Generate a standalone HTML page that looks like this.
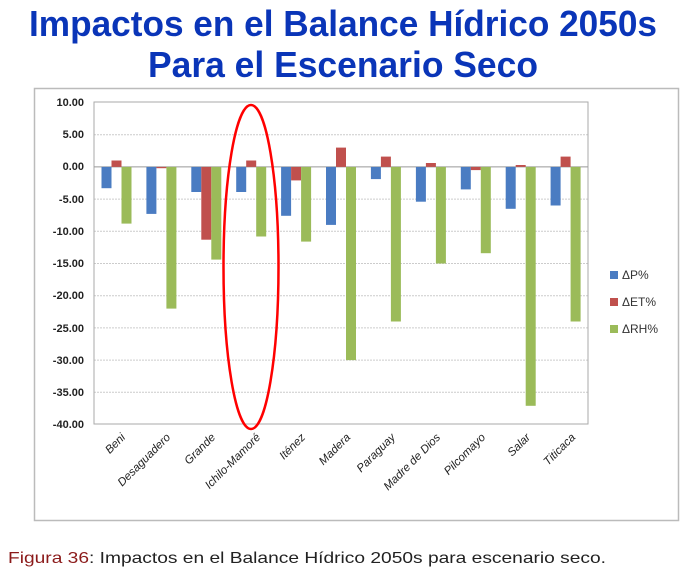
<!DOCTYPE html>
<html><head><meta charset="utf-8"><style>
html,body{margin:0;padding:0;background:#fff;width:687px;height:573px;overflow:hidden}
</style></head><body>
<svg width="687" height="573" xmlns="http://www.w3.org/2000/svg" font-family="Liberation Sans, sans-serif">
<text x="343" y="36" text-anchor="middle" font-size="36" font-weight="bold" fill="#0a35b8" textLength="628" lengthAdjust="spacingAndGlyphs">Impactos en el Balance Hídrico 2050s</text>
<text x="343" y="77" text-anchor="middle" font-size="36" font-weight="bold" fill="#0a35b8" textLength="390" lengthAdjust="spacingAndGlyphs">Para el Escenario Seco</text>
<rect x="34.5" y="88.5" width="644" height="432" fill="#fff" stroke="#bbb" stroke-width="1.5"/>
<g stroke="#ccc" stroke-width="1" stroke-dasharray="2,1">
<line x1="94" x2="588" y1="134.7" y2="134.7"/>
<line x1="94" x2="588" y1="199.1" y2="199.1"/>
<line x1="94" x2="588" y1="231.3" y2="231.3"/>
<line x1="94" x2="588" y1="263.5" y2="263.5"/>
<line x1="94" x2="588" y1="295.7" y2="295.7"/>
<line x1="94" x2="588" y1="327.9" y2="327.9"/>
<line x1="94" x2="588" y1="360.1" y2="360.1"/>
<line x1="94" x2="588" y1="392.3" y2="392.3"/>
</g>
<rect x="94" y="102" width="494" height="322" fill="none" stroke="#aaa"/>
<line x1="94" x2="588" y1="166.9" y2="166.9" stroke="#999"/>
<g font-size="11" font-weight="bold" fill="#222" text-anchor="end">
<text x="84" y="106">10.00</text><text x="84" y="138">5.00</text><text x="84" y="170">0.00</text>
<text x="84" y="203">-5.00</text><text x="84" y="235">-10.00</text><text x="84" y="267">-15.00</text>
<text x="84" y="299">-20.00</text><text x="84" y="332">-25.00</text><text x="84" y="364">-30.00</text>
<text x="84" y="396">-35.00</text><text x="84" y="428">-40.00</text>
</g>
<g fill="#4a7cc2">
<rect x="101.5" y="166.9" width="10" height="21.3"/>
<rect x="146.4" y="166.9" width="10" height="47.0"/>
<rect x="191.3" y="166.9" width="10" height="25.1"/>
<rect x="236.2" y="166.9" width="10" height="25.1"/>
<rect x="281.1" y="166.9" width="10" height="48.9"/>
<rect x="326.0" y="166.9" width="10" height="58.0"/>
<rect x="370.9" y="166.9" width="10" height="12.2"/>
<rect x="415.9" y="166.9" width="10" height="34.8"/>
<rect x="460.8" y="166.9" width="10" height="22.5"/>
<rect x="505.7" y="166.9" width="10" height="41.9"/>
<rect x="550.6" y="166.9" width="10" height="38.6"/>
</g>
<g fill="#c0504d">
<rect x="111.5" y="160.5" width="10" height="6.4"/>
<rect x="156.4" y="166.9" width="10" height="1.3"/>
<rect x="201.3" y="166.9" width="10" height="72.8"/>
<rect x="246.2" y="160.5" width="10" height="6.4"/>
<rect x="291.1" y="166.9" width="10" height="13.5"/>
<rect x="336.0" y="147.6" width="10" height="19.3"/>
<rect x="380.9" y="156.6" width="10" height="10.3"/>
<rect x="425.9" y="163.0" width="10" height="3.9"/>
<rect x="470.8" y="166.9" width="10" height="3.2"/>
<rect x="515.7" y="165.0" width="10" height="1.9"/>
<rect x="560.6" y="156.6" width="10" height="10.3"/>
</g>
<g fill="#9bbb59">
<rect x="121.5" y="166.9" width="10" height="56.7"/>
<rect x="166.4" y="166.9" width="10" height="141.7"/>
<rect x="211.3" y="166.9" width="10" height="92.7"/>
<rect x="256.2" y="166.9" width="10" height="69.6"/>
<rect x="301.1" y="166.9" width="10" height="74.7"/>
<rect x="346.0" y="166.9" width="10" height="193.2"/>
<rect x="390.9" y="166.9" width="10" height="154.6"/>
<rect x="435.9" y="166.9" width="10" height="96.6"/>
<rect x="480.8" y="166.9" width="10" height="86.3"/>
<rect x="525.7" y="166.9" width="10" height="238.9"/>
<rect x="570.6" y="166.9" width="10" height="154.6"/>
</g>
<g font-size="11.5" font-style="italic" fill="#222" text-anchor="end">
<text transform="translate(126,438) rotate(-45)">Beni</text>
<text transform="translate(171,438) rotate(-45)">Desaguadero</text>
<text transform="translate(216,438) rotate(-45)">Grande</text>
<text transform="translate(261,438) rotate(-45)">Ichilo-Mamoré</text>
<text transform="translate(306,438) rotate(-45)">Iténez</text>
<text transform="translate(351,438) rotate(-45)">Madera</text>
<text transform="translate(396,438) rotate(-45)">Paraguay</text>
<text transform="translate(441,438) rotate(-45)">Madre de Dios</text>
<text transform="translate(486,438) rotate(-45)">Pilcomayo</text>
<text transform="translate(531,438) rotate(-45)">Salar</text>
<text transform="translate(576,438) rotate(-45)">Titicaca</text>
</g>
<ellipse cx="251" cy="267" rx="27.5" ry="162" fill="none" stroke="#f00" stroke-width="2.5"/>
<rect x="610" y="271" width="8" height="8" fill="#4a7cc2"/><text x="622" y="279" font-size="12" fill="#333">ΔP%</text>
<rect x="610" y="298" width="8" height="8" fill="#c0504d"/><text x="622" y="306" font-size="12" fill="#333">ΔET%</text>
<rect x="610" y="325" width="8" height="8" fill="#9bbb59"/><text x="622" y="333" font-size="12" fill="#333">ΔRH%</text>
<text x="8" y="563" font-size="16" fill="#222" textLength="598" lengthAdjust="spacingAndGlyphs"><tspan fill="#8b1a1a">Figura 36</tspan>: Impactos en el Balance Hídrico 2050s para escenario seco.</text>
</svg>
</body></html>
